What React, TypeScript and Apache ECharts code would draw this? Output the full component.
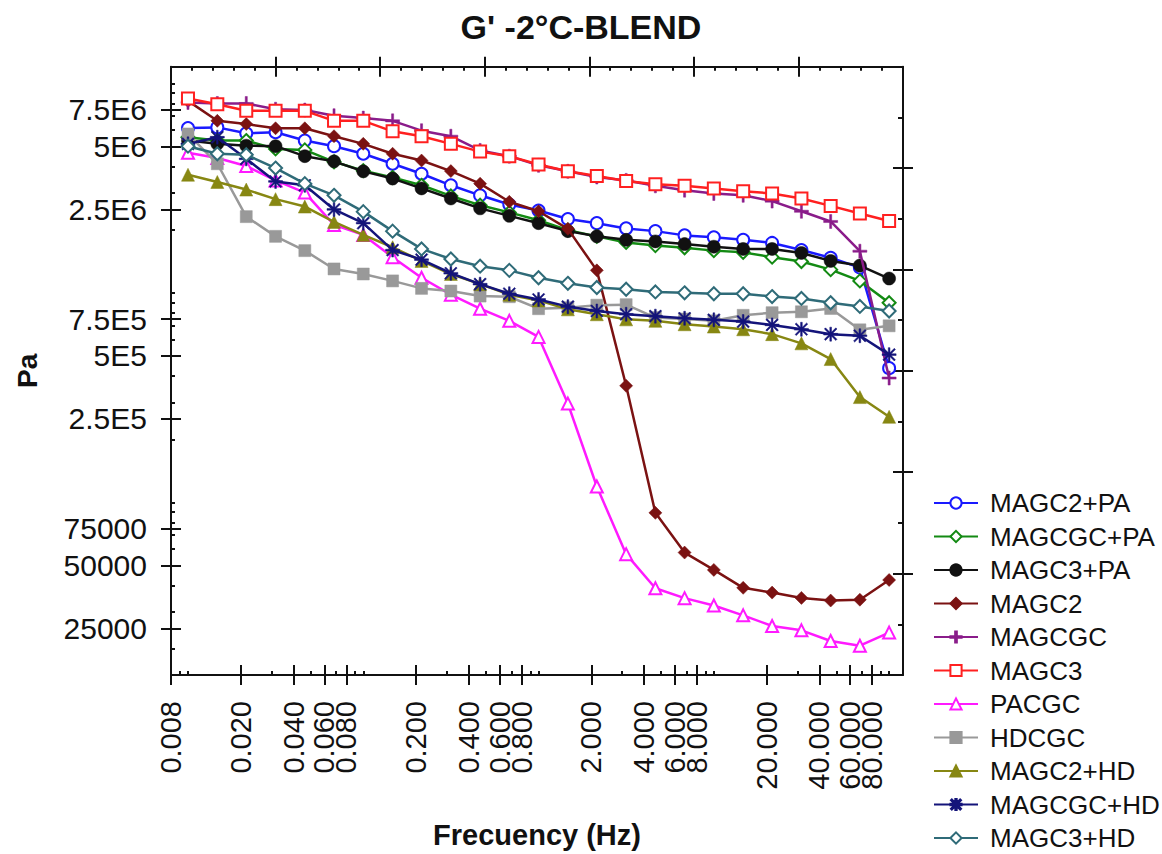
import React, { useEffect, useRef } from "react";
import * as echarts from "echarts";

// Frequencies (Hz) of the measured points
const freqHz = [0.01, 0.0147, 0.0215, 0.0316, 0.0464, 0.0681, 0.1, 0.147, 0.215, 0.316, 0.464, 0.681, 1, 1.47, 2.15, 3.16, 4.64, 6.81, 10, 14.7, 21.5, 31.6, 46.4, 68.1, 100];

// G' (Pa) per sample
const magc2pa = [6.12e6, 6.16e6, 5.77e6, 5.84e6, 5.33e6, 5.01e6, 4.61e6, 4.13e6, 3.70e6, 3.26e6, 2.92e6, 2.64e6, 2.47e6, 2.25e6, 2.15e6, 2.03e6, 1.97e6, 1.88e6, 1.84e6, 1.79e6, 1.73e6, 1.60e6, 1.47e6, 1.32e6, 4.37e5];
const magcgcpa = [5.53e6, 5.33e6, 5.33e6, 4.86e6, 4.81e6, 4.22e6, 3.83e6, 3.55e6, 3.26e6, 2.90e6, 2.62e6, 2.42e6, 2.22e6, 1.99e6, 1.86e6, 1.74e6, 1.68e6, 1.64e6, 1.59e6, 1.56e6, 1.48e6, 1.41e6, 1.29e6, 1.14e6, 8.97e5];
const magc3pa = [5.33e6, 5.14e6, 5.04e6, 5.01e6, 4.49e6, 4.24e6, 3.80e6, 3.51e6, 3.15e6, 2.82e6, 2.53e6, 2.33e6, 2.15e6, 1.97e6, 1.86e6, 1.79e6, 1.76e6, 1.71e6, 1.66e6, 1.62e6, 1.62e6, 1.55e6, 1.42e6, 1.35e6, 1.17e6];
const magc2 = [8.24e6, 6.62e6, 6.39e6, 6.10e6, 6.10e6, 5.59e6, 5.14e6, 4.61e6, 4.28e6, 3.81e6, 3.32e6, 2.72e6, 2.45e6, 2.02e6, 1.28e6, 3.60e5, 8.91e4, 5.76e4, 4.76e4, 3.91e4, 3.71e4, 3.50e4, 3.40e4, 3.43e4, 4.26e4];
const magcgc = [8.10e6, 8.01e6, 8.01e6, 7.52e6, 7.45e6, 7.0e6, 6.82e6, 6.62e6, 5.94e6, 5.59e6, 4.78e6, 4.49e6, 4.06e6, 3.80e6, 3.57e6, 3.44e6, 3.24e6, 3.09e6, 2.98e6, 2.92e6, 2.74e6, 2.45e6, 2.19e6, 1.58e6, 3.92e5];
const magc3 = [8.46e6, 7.95e6, 7.39e6, 7.39e6, 7.39e6, 6.62e6, 6.62e6, 5.90e6, 5.59e6, 5.14e6, 4.72e6, 4.49e6, 4.10e6, 3.80e6, 3.61e6, 3.42e6, 3.30e6, 3.24e6, 3.15e6, 3.05e6, 2.98e6, 2.82e6, 2.60e6, 2.39e6, 2.20e6];
const pacgc = [4.66e6, 4.40e6, 4.03e6, 3.44e6, 3.01e6, 2.11e6, 1.89e6, 1.48e6, 1.18e6, 9.8e5, 8.40e5, 7.35e5, 6.16e5, 2.96e5, 1.19e5, 5.66e4, 3.89e4, 3.49e4, 3.22e4, 2.89e4, 2.57e4, 2.45e4, 2.18e4, 2.07e4, 2.39e4];
const hdcgc = [5.73e6, 4.13e6, 2.31e6, 1.86e6, 1.59e6, 1.30e6, 1.23e6, 1.14e6, 1.05e6, 1.02e6, 9.65e5, 9.58e5, 8.40e5, 8.49e5, 8.73e5, 8.78e5, 7.62e5, 7.50e5, 7.35e5, 7.81e5, 8.04e5, 8.12e5, 8.42e5, 6.66e5, 6.96e5];
const magc2hd = [3.66e6, 3.38e6, 3.11e6, 2.80e6, 2.58e6, 2.18e6, 1.89e6, 1.65e6, 1.42e6, 1.23e6, 1.10e6, 9.8e5, 9.2e5, 8.34e5, 7.90e5, 7.47e5, 7.35e5, 7.08e5, 6.90e5, 6.70e5, 6.35e5, 5.74e5, 4.83e5, 3.18e5, 2.56e5];
const magcgchd = [5.14e6, 5.53e6, 4.36e6, 3.40e6, 3.26e6, 2.50e6, 2.15e6, 1.60e6, 1.44e6, 1.24e6, 1.10e6, 9.9e5, 9.3e5, 8.59e5, 8.19e5, 7.90e5, 7.74e5, 7.56e5, 7.43e5, 7.29e5, 7.03e5, 6.70e5, 6.35e5, 6.24e5, 5.07e5];
const magc3hd = [5.01e6, 4.61e6, 4.56e6, 3.94e6, 3.32e6, 2.92e6, 2.44e6, 1.97e6, 1.62e6, 1.45e6, 1.34e6, 1.28e6, 1.18e6, 1.11e6, 1.06e6, 1.04e6, 1.01e6, 1.0e6, 9.9e5, 9.9e5, 9.6e5, 9.4e5, 8.97e5, 8.61e5, 8.19e5];

const seriesNames = ["MAGC2+PA", "MAGCGC+PA", "MAGC3+PA", "MAGC2", "MAGCGC", "MAGC3", "PACGC", "HDCGC", "MAGC2+HD", "MAGCGC+HD", "MAGC3+HD"];
const seriesValues = [magc2pa, magcgcpa, magc3pa, magc2, magcgc, magc3, pacgc, hdcgc, magc2hd, magcgchd, magc3hd];

// Axis tick labels
const xLabelValues = [0.008, 0.02, 0.04, 0.06, 0.08, 0.2, 0.4, 0.6, 0.8, 2, 4, 6, 8, 20, 40, 60, 80];
const xLabelTexts = ["0.008", "0.020", "0.040", "0.060", "0.080", "0.200", "0.400", "0.600", "0.800", "2.000", "4.000", "6.000", "8.000", "20.000", "40.000", "60.000", "80.000"];
const xMinorValues = [0.009, 0.01, 0.03, 0.05, 0.07, 0.09, 0.1, 0.3, 0.5, 0.7, 0.9, 1, 3, 5, 7, 9, 10, 30, 50, 70, 90, 100];
const yLabelValues = [7.5e6, 5e6, 2.5e6, 7.5e5, 5e5, 2.5e5, 75000, 50000, 25000];
const yLabelTexts = ["7.5E6", "5E6", "2.5E6", "7.5E5", "5E5", "2.5E5", "75000", "50000", "25000"];
const yMinorValues = [1e7, 9e6, 8e6, 7e6, 6e6, 4e6, 3e6, 2e6, 1e6, 9e5, 8e5, 7e5, 6e5, 4e5, 3e5, 2e5, 1e5, 9e4, 8e4, 7e4, 6e4, 4e4, 3e4, 2e4];

const X_MIN = 0.008;
const X_MAX = 120;
const Y_MIN = 15000;
const Y_MAX = 1.2e7;

const PLUS = "path://M4.25,0H5.75V4.25H10V5.75H5.75V10H4.25V5.75H0V4.25H4.25Z";
const ASTER = "path://M4.4,0H5.6V10H4.4ZM0,4.4H10V5.6H0ZM1.3,0.5L9.5,8.7L8.7,9.5L0.5,1.3ZM8.7,0.5L9.5,1.3L1.3,9.5L0.5,8.7Z";

const styles = [
  { color: "#1a1aff", symbol: "emptyCircle", size: 12, empty: true },
  { color: "#138a13", symbol: "emptyDiamond", size: 13, empty: true },
  { color: "#111111", symbol: "circle", size: 13, empty: false },
  { color: "#7b1212", symbol: "diamond", size: 13, empty: false },
  { color: "#8a1c8a", symbol: PLUS, size: 14, empty: false },
  { color: "#ff2020", symbol: "emptyRect", size: 12, empty: true },
  { color: "#ff1aff", symbol: "emptyTriangle", size: 12, empty: true },
  { color: "#999999", symbol: "rect", size: 12, empty: false },
  { color: "#878712", symbol: "triangle", size: 13, empty: false },
  { color: "#14147a", symbol: ASTER, size: 14, empty: false },
  { color: "#2f6b78", symbol: "emptyDiamond", size: 13, empty: true },
];

const L = (v: number) => Math.log10(v);
const FONT = "'Liberation Sans', Arial, Helvetica, sans-serif";
const INK = "#111111";

function nearestText(v: number, vals: number[], texts: string[]) {
  let best = 0;
  let bd = Infinity;
  for (let i = 0; i < vals.length; i++) {
    const d = Math.abs(L(vals[i]) - v);
    if (d < bd) {
      bd = d;
      best = i;
    }
  }
  return texts[best];
}

export default function App() {
  const ref = useRef<HTMLDivElement>(null);

  useEffect(() => {
    if (!ref.current) return;
    const chart = echarts.init(ref.current, undefined, { renderer: "svg" });

    const xmin = L(X_MIN), xmax = L(X_MAX), ymin = L(Y_MIN), ymax = L(Y_MAX);
    const topMajor: number[] = [];
    const topMinor: number[] = [];
    for (let k = 1; k < 7; k++) topMajor.push(xmin + (k * (xmax - xmin)) / 7);
    for (let k = 1; k < 35; k++) if (k % 5 !== 0) topMinor.push(xmin + (k * (xmax - xmin)) / 35);
    const rightMajor: number[] = [];
    const rightMinor: number[] = [];
    for (let k = 1; k < 6; k++) rightMajor.push(ymin + (k * (ymax - ymin)) / 6);
    for (let k = 0; k < 6; k++) rightMinor.push(ymin + ((k + 0.5) * (ymax - ymin)) / 6);

    const lineStyle = { color: INK, width: 2 };
    const xa = (position: string, opts: any) => ({
      type: "value",
      min: xmin,
      max: xmax,
      position,
      splitLine: { show: false },
      axisLine: { show: false, onZero: false, lineStyle },
      axisTick: { show: false },
      axisLabel: { show: false },
      ...opts,
    });
    const ya = (position: string, opts: any) => ({
      type: "value",
      min: ymin,
      max: ymax,
      position,
      splitLine: { show: false },
      axisLine: { show: false, onZero: false, lineStyle },
      axisTick: { show: false },
      axisLabel: { show: false },
      ...opts,
    });

    const xLabLogs = xLabelValues.map(L);
    const xLabEven = xLabLogs.filter((_, i) => i % 2 === 0);
    const xLabOdd = xLabLogs.filter((_, i) => i % 2 === 1);
    const yLabLogs = yLabelValues.map(L);
    const xLabelBase = {
      show: true,
      rotate: 90,
      margin: 26,
      fontFamily: FONT,
      fontSize: 29,
      color: INK,
      showMinLabel: true,
      showMaxLabel: true,
      hideOverlap: false,
      formatter: (v: number) => nearestText(v, xLabelValues, xLabelTexts),
    };

    const option: any = {
      animation: false,
      backgroundColor: "#ffffff",
      title: {
        text: "G' -2°C-BLEND",
        left: "center",
        top: 5,
        textStyle: { fontFamily: FONT, fontSize: 34, fontWeight: "bold", color: INK },
      },
      grid: { left: 171, top: 66.7, width: 732, height: 612.6, containLabel: false },
      legend: {
        orient: "vertical",
        left: 933,
        top: 490,
        height: 362,
        padding: 0,
        itemWidth: 44,
        itemHeight: 14,
        itemGap: 7.5,
        textStyle: { fontFamily: FONT, fontSize: 26, color: INK, padding: [0, 0, 0, 7] },
        data: seriesNames,
      },
      xAxis: [
        xa("bottom", {
          axisLine: { show: true, onZero: false, lineStyle },
          axisTick: { show: true, customValues: xLabLogs, length: 10, lineStyle },
          axisLabel: { ...xLabelBase, customValues: xLabEven },
          name: "Frecuency (Hz)",
          nameLocation: "middle",
          nameGap: 145,
          nameTextStyle: { fontFamily: FONT, fontSize: 29, fontWeight: "bold", color: INK },
        }),
        xa("bottom", {
          axisTick: { show: true, inside: true, customValues: xLabLogs, length: 10, lineStyle },
          axisLabel: { ...xLabelBase, customValues: xLabOdd },
        }),
        xa("bottom", { axisTick: { show: true, inside: true, customValues: xMinorValues.map(L), length: 4, lineStyle } }),
        xa("top", {
          axisLine: { show: true, onZero: false, lineStyle },
          axisTick: { show: true, customValues: topMajor, length: 10, lineStyle },
        }),
        xa("top", { axisTick: { show: true, inside: true, customValues: topMajor, length: 10, lineStyle } }),
        xa("top", { axisTick: { show: true, inside: true, customValues: topMinor, length: 4, lineStyle } }),
      ],
      yAxis: [
        ya("left", {
          axisLine: { show: true, onZero: false, lineStyle },
          axisTick: { show: true, customValues: yLabLogs, length: 10, lineStyle },
          axisLabel: {
            show: true,
            customValues: yLabLogs,
            margin: 24,
            fontFamily: FONT,
            fontSize: 30,
            color: INK,
            showMinLabel: true,
            showMaxLabel: true,
            formatter: (v: number) => nearestText(v, yLabelValues, yLabelTexts),
          },
          name: "Pa",
          nameLocation: "middle",
          nameGap: 130,
          nameTextStyle: { fontFamily: FONT, fontSize: 28, fontWeight: "bold", color: INK },
        }),
        ya("left", { axisTick: { show: true, inside: true, customValues: yLabLogs, length: 10, lineStyle } }),
        ya("left", { axisTick: { show: true, inside: true, customValues: yMinorValues.map(L), length: 4, lineStyle } }),
        ya("right", {
          axisLine: { show: true, onZero: false, lineStyle },
          axisTick: { show: true, customValues: rightMajor, length: 10, lineStyle },
        }),
        ya("right", { axisTick: { show: true, inside: true, customValues: rightMajor, length: 10, lineStyle } }),
        ya("right", { axisTick: { show: true, inside: true, customValues: rightMinor, length: 5, lineStyle } }),
      ],
      series: seriesNames.map((name, si) => {
        const st = styles[si];
        return {
          name,
          type: "line",
          xAxisIndex: 0,
          yAxisIndex: 0,
          data: seriesValues[si].map((v, i) => [L(freqHz[i]), L(v)]),
          symbol: st.symbol,
          symbolSize: st.size,
          showSymbol: true,
          lineStyle: { color: st.color, width: 2.5 },
          itemStyle: { color: st.color, borderColor: st.color, borderWidth: st.empty ? 2 : 0.5 },
          emphasis: { disabled: true },
          z: 2 + si * 0.01,
        };
      }),
    };

    chart.setOption(option);
    return () => chart.dispose();
  }, []);

  return (
    <div
      ref={ref}
      style={{ position: "absolute", left: 0, top: 0, width: 1162, height: 854, background: "#fff" }}
    />
  );
}
